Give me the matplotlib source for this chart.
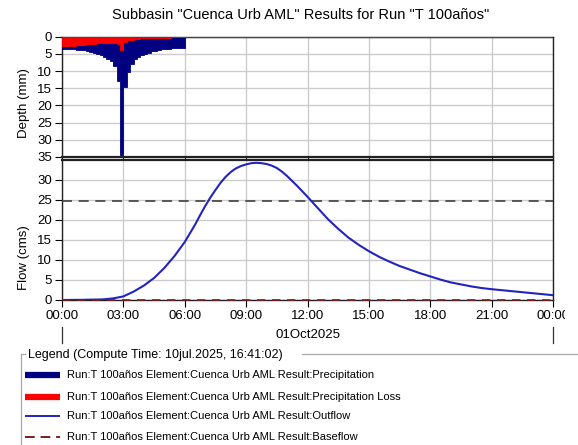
import numpy as np
import matplotlib
matplotlib.use("Agg")
import matplotlib.pyplot as plt
from matplotlib.lines import Line2D
from matplotlib.transforms import Bbox, TransformedBbox

plt.rcParams['font.family'] = ['Liberation Sans', 'DejaVu Sans']

# ---------------- data ----------------
title = 'Subbasin "Cuenca Urb AML" Results for Run "T 100años"'

precip_step_hours = 10 / 60
precip_mm = [3.5, 3.5, 3.6, 3.7, 3.8, 3.9, 4.0, 4.2, 4.4, 4.7, 5.0, 5.3, 5.8, 6.4, 7.2, 8.6, 13.0,
             34.3,
             14.5, 10.2, 7.8, 6.6, 5.9, 5.4, 5.0, 4.6, 4.3, 4.1, 3.9, 3.7, 3.6, 3.5, 3.4, 3.3, 3.3, 3.2]
loss_mm = [2.8, 2.8, 2.7, 2.6, 2.5, 2.4, 2.3, 2.2, 2.1, 2.0, 1.9, 1.9, 1.8, 1.8, 1.8, 1.9, 2.2,
           3.9,
           1.4, 1.1, 0.9, 0.7, 0.6, 0.5, 0.4, 0.35, 0.3, 0.3, 0.3, 0.25, 0.25, 0.25, 0.2, 0.2, 0.2, 0.2]

flow_hours = [0, 1, 2, 2.5, 3, 3.5, 4, 4.5, 5, 5.5, 6, 6.5, 6.75, 7, 7.25, 7.5, 7.75, 8, 8.25,
              8.5, 8.75, 9, 9.25, 9.5, 9.75, 10, 10.25, 10.5, 10.75, 11, 11.5, 12, 12.5, 13,
              13.5, 14, 14.5, 15, 15.5, 16, 16.5, 17, 17.5, 18, 18.5, 19, 19.5, 20, 20.5, 21,
              21.5, 22, 22.5, 23, 23.5, 24]
outflow_cms = [0.0, 0.05, 0.15, 0.4, 0.9, 2.1, 3.6, 5.5, 8.0, 11.0, 14.5, 18.8, 21.2, 23.5, 25.6,
               27.5, 29.3, 30.8, 32.0, 32.9, 33.5, 33.9, 34.2, 34.3, 34.2, 34.0, 33.6, 33.0, 32.1,
               31.0, 28.5, 25.8, 23.0, 20.2, 17.8, 15.6, 13.8, 12.2, 10.8, 9.6, 8.5, 7.6, 6.7,
               5.9, 5.1, 4.4, 3.9, 3.4, 3.0, 2.7, 2.45, 2.2, 1.95, 1.7, 1.45, 1.2]
baseflow_hours = [0, 24]
baseflow_cms = [0.0, 0.0]
reference_flow_cms = 24.8

xtick_hours = [0, 3, 6, 9, 12, 15, 18, 21, 24]
xtick_labels = ["00:00", "03:00", "06:00", "09:00", "12:00", "15:00", "18:00", "21:00", "00:00"]
date_label = "01Oct2025"
depth_ticks = [0, 5, 10, 15, 20, 25, 30, 35]
flow_ticks = [0, 5, 10, 15, 20, 25, 30]

legend_title = "Legend (Compute Time: 10jul.2025, 16:41:02)"
legend_labels = [
    "Run:T 100años Element:Cuenca Urb AML Result:Precipitation",
    "Run:T 100años Element:Cuenca Urb AML Result:Precipitation Loss",
    "Run:T 100años Element:Cuenca Urb AML Result:Outflow",
    "Run:T 100años Element:Cuenca Urb AML Result:Baseflow",
]

# ---------------- styles ----------------
C_PRECIP = "#000080"
C_LOSS = "#ff0000"
C_OUT = "#2323c0"
C_BASE = "#7a1f1f"
C_REF = "#404040"
C_GRID = "#cccccc"

W, H = 578, 445
fig = plt.figure(figsize=(W / 100, H / 100), dpi=100)


def fx(px):
    return px / W


def fy(py):
    return 1 - py / H


L, R = 62, 553
ax1 = fig.add_axes([fx(L), fy(157), fx(R) - fx(L), fy(36.7) - fy(157)])
ax2 = fig.add_axes([fx(L), fy(300), fx(R) - fx(L), fy(160) - fy(300)])

# top panel: precipitation hyetograph
edges = np.arange(len(precip_mm) + 1) * precip_step_hours
ax1.stairs(precip_mm, edges, fill=True, facecolor=C_PRECIP, edgecolor=C_PRECIP,
           linewidth=0.6, zorder=3)
ax1.stairs(loss_mm, edges, fill=True, facecolor=C_LOSS, edgecolor=C_LOSS,
           linewidth=0.6, zorder=4)
ax1.axhline(0, color=C_LOSS, lw=1.2, zorder=4)
ax1.set_xlim(0, 24)
ax1.set_ylim(35, 0)
ax1.set_yticks(depth_ticks)
ax1.set_xticks(xtick_hours)
ax1.tick_params(axis='x', length=0, labelbottom=False)
ax1.set_ylabel("Depth (mm)", fontsize=9.5)
ax1.yaxis.set_label_coords(-0.066, 0.45)

# bottom panel: hydrograph
ax2.plot(flow_hours, outflow_cms, color=C_OUT, lw=1.5, zorder=4)
ax2.plot(baseflow_hours, baseflow_cms, color=C_BASE, lw=1.2, ls=(0, (5, 4)), zorder=5, clip_on=False)
ax2.axhline(reference_flow_cms, color=C_REF, lw=1.2, ls=(0, (6, 4)), zorder=3)
ax2.set_xlim(0, 24)
ax2.set_ylim(0, 35)
ax2.set_yticks(flow_ticks)
ax2.set_xticks(xtick_hours)
ax2.set_xticklabels(xtick_labels)
ax2.set_ylabel("Flow (cms)", fontsize=9.5)
ax2.yaxis.set_label_coords(-0.066, 0.3)

for ax in (ax1, ax2):
    ax.grid(True, color=C_GRID, lw=1.0, zorder=0)
    ax.set_axisbelow(True)
    ax.tick_params(axis='both', direction='out', length=5, width=0.8, pad=2, labelsize=9.5)
    for s in ax.spines.values():
        s.set_linewidth(1.0)
        s.set_color("#222222")
ax1.spines['bottom'].set_linewidth(1.6)
ax2.spines['top'].set_linewidth(1.6)

# last tick label is cut at the panel edge in the original
clip = TransformedBbox(Bbox([[0, 0], [fx(565), 1]]), fig.transFigure)
last = ax2.get_xticklabels()[-1]
last.set_clip_on(True)
last.set_clip_box(clip)

# date label and day separators
ax2.text(0.5, -0.25, date_label, transform=ax2.transAxes, ha='center', va='center', fontsize=9.5)
for xa in (0.0, 1.0):
    ax2.add_line(Line2D([xa, xa], [-0.19, -0.31], transform=ax2.transAxes, color='#333333',
                        lw=0.9, clip_on=False))

fig.text(fx(301), fy(15), title, ha='center', va='center', fontsize=10.5)

# legend group box
box_kw = dict(transform=fig.transFigure, color='#a8a8a8', lw=0.9)
fig.add_artist(Line2D([fx(20.7), fx(20.7)], [fy(354), fy(445)], **box_kw))
fig.add_artist(Line2D([fx(20.7), fx(25)], [fy(354), fy(354)], **box_kw))
fig.add_artist(Line2D([fx(302), fx(578)], [fy(354), fy(354)], **box_kw))
fig.text(fx(28), fy(355), legend_title, ha='left', va='center', fontsize=9)

entry_y = [375, 396.5, 416, 436.5]
handles = [
    dict(color=C_PRECIP, lw=4.5, ls='-'),
    dict(color=C_LOSS, lw=4.5, ls='-'),
    dict(color=C_OUT, lw=1.4, ls='-'),
    dict(color=C_BASE, lw=1.4, ls=(0, (5, 3))),
]
for yy, lab, st in zip(entry_y, legend_labels, handles):
    fig.add_artist(Line2D([fx(25), fx(60)], [fy(yy), fy(yy)], transform=fig.transFigure,
                          solid_capstyle='butt', dash_capstyle='butt', **st))
    fig.text(fx(67), fy(yy), lab, ha='left', va='center', fontsize=8)

fig.savefig("out.png", dpi=100)
